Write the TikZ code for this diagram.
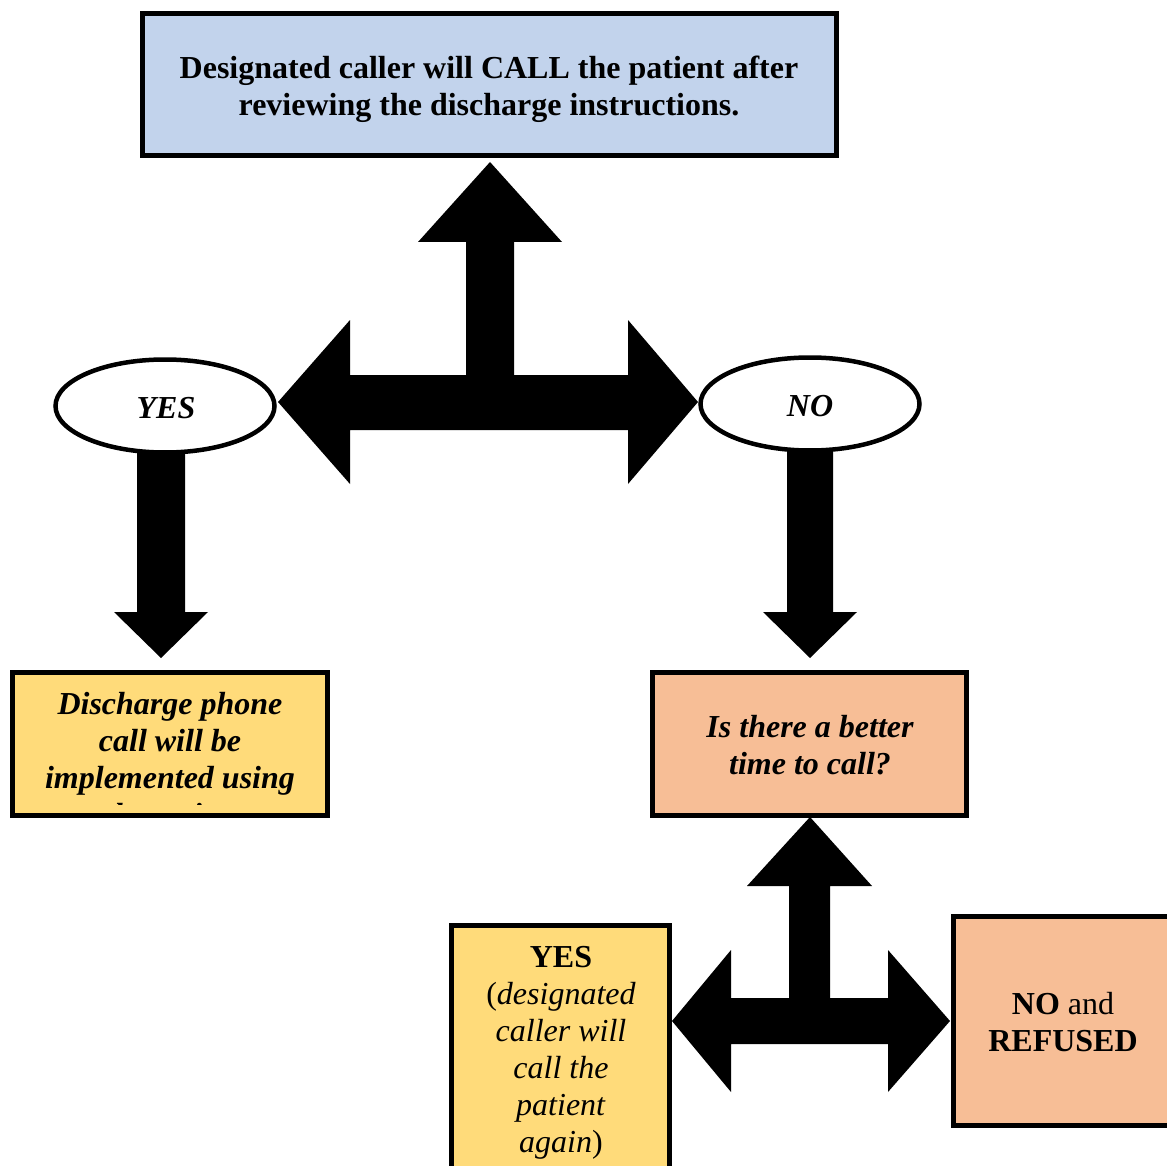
\documentclass[tikz,border=0pt]{standalone}
\usepackage{fontspec}
\setmainfont{Liberation Serif}
\usetikzlibrary{shapes.geometric}
\definecolor{boxblue}{HTML}{C2D3EC}
\definecolor{boxyellow}{HTML}{FFDB7A}
\definecolor{boxorange}{HTML}{F7BE96}
\tikzset{
  flowbox/.style={draw=black, line width=5pt, inner sep=0pt},
  ovalnode/.style={ellipse, draw=black, line width=4.5pt, fill=white, inner sep=0pt},
  txt/.style={align=center, inner sep=0pt, font=\fontsize{32}{37}\selectfont},
  blockarrow/.style={fill=black, draw=none}
}
\begin{document}
\begin{tikzpicture}[x=1pt,y=-1pt]
\useasboundingbox (0,0) rectangle (1167,1166);
\clip (0,0) rectangle (1167,1166);
\fill[white] (0,0) rectangle (1167,1166);

% top box
\node[flowbox, fill=boxblue, minimum width=694pt, minimum height=142pt] (top) at (489,85) {};
\node[txt, font=\fontsize{32}{37}\selectfont\bfseries] (toptxt) at (489,89) {Designated caller will CALL the patient after\\reviewing the discharge instructions.};

% big T arrow
\fill[blockarrow] (490,162) -- (562,242) -- (514,242) -- (514,375) -- (628,375) -- (628,320) -- (698,402)
  -- (628,484) -- (628,430) -- (350,430) -- (350,484) -- (278,402) -- (350,320) -- (350,375)
  -- (466,375) -- (466,242) -- (418,242) -- cycle;

% ovals
\node[ovalnode, minimum width=219pt, minimum height=93pt] (yes) at (165,406) {};
\node[txt, font=\fontsize{32}{37}\selectfont\bfseries\itshape] at (166,408) {YES};
\node[ovalnode, minimum width=219pt, minimum height=93pt] (no) at (810,404) {};
\node[txt, font=\fontsize{32}{37}\selectfont\bfseries\itshape] at (810,406) {NO};

% down arrows
\fill[blockarrow] (137,453) -- (185,453) -- (185,612) -- (208,612) -- (161,658) -- (114,612) -- (137,612) -- cycle;
\fill[blockarrow] (787,451) -- (833,451) -- (833,612) -- (857,612) -- (810,658) -- (763,612) -- (787,612) -- cycle;

% left yellow box
\node[flowbox, draw=none, fill=boxyellow, minimum width=315pt, minimum height=143pt] (impl) at (170,744) {};
\begin{scope}
\clip (12,672) rectangle (328,804);
\node[txt, font=\fontsize{32}{37}\selectfont\bfseries\itshape] (impltxt) at (170,762) {Discharge phone\\call will be\\implemented using\\the script.};
\end{scope}
\node[flowbox, fill=none, minimum width=315pt, minimum height=143pt] at (impl) {};

% right orange box
\node[flowbox, fill=boxorange, minimum width=314pt, minimum height=143pt] (better) at (809.5,744) {};
\node[txt, font=\fontsize{32}{37}\selectfont\bfseries\itshape] at (810,745) {Is there a better\\time to call?};

% lower T arrow
\fill[blockarrow] (810,817) -- (872,886) -- (830,886) -- (830,998) -- (888,998) -- (888,950) -- (950,1021)
  -- (888,1092) -- (888,1044) -- (731,1044) -- (731,1092) -- (672,1021) -- (731,950) -- (731,998)
  -- (789,998) -- (789,886) -- (747,886) -- cycle;

% bottom yellow box
\node[flowbox, fill=boxyellow, minimum width=218pt, minimum height=260pt] (again) at (560.5,1055) {};
\node[txt] at (561,1053) {\textbf{YES}\\(\textit{designated}\\\textit{caller will}\\\textit{call the}\\\textit{patient}\\\textit{again})};

% right orange box
\node[flowbox, fill=boxorange, minimum width=260pt, minimum height=209pt] (refused) at (1083.5,1021) {};
\node[txt] at (1063,1022) {\textbf{NO} and\\\textbf{REFUSED}};
\end{tikzpicture}
\end{document}
